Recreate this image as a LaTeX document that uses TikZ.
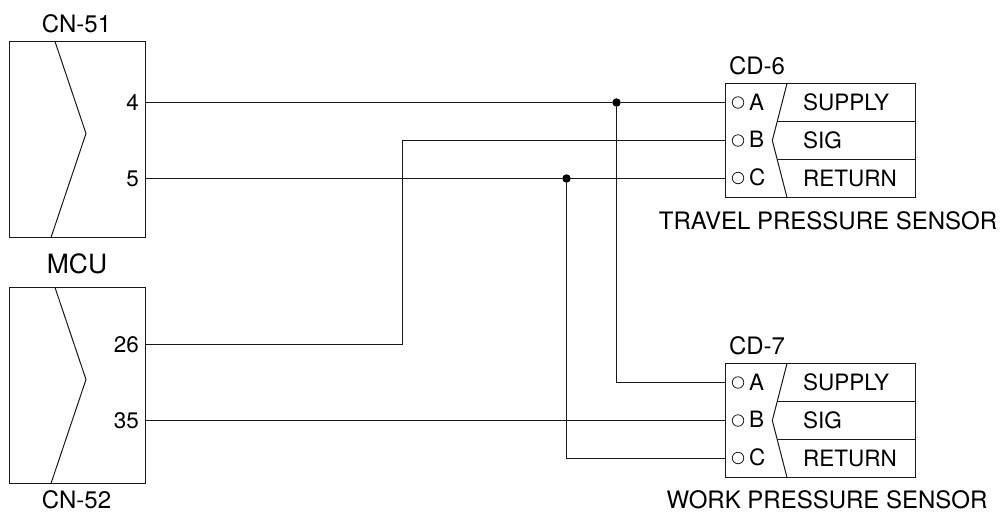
\documentclass[tikz,border=0pt]{standalone}
\usepackage{fontspec}
\setmainfont{TeX Gyre Heros}
\tikzset{
  wire/.style={line width=1.1pt,black!90},
  thin line/.style={line width=1.0pt,black!90},
  boxshape/.style={draw=black!90,line width=1.1pt,rectangle,inner sep=0pt,outer sep=0pt},
  lbl/.style={inner sep=0pt,outer sep=0pt,font=\fontsize{22.5}{24}\selectfont,text=black},
  big/.style={lbl,font=\fontsize{24}{26}\selectfont},
  huge/.style={lbl,font=\fontsize{26.5}{28}\selectfont},
  pinhole/.style={circle,draw=black!90,line width=0.8pt,minimum size=11.5pt,inner sep=0pt},
  junction/.style={circle,fill=black,minimum size=8.5pt,inner sep=0pt}
}
\begin{document}
\begin{tikzpicture}[x=1pt,y=-1pt]
\useasboundingbox (0,0) rectangle (1000,512);
% MCU connectors
\foreach \nm/\t/\uu/\ll/\lt/\ly in {cnA/41.5/4/5/CN-51/32,cnB/287.5/26/35/CN-52/508}{
  \pgfmathsetmacro{\b}{\t+196}
  \pgfmathsetmacro{\m}{\t+92}
  \pgfmathsetmacro{\pa}{\t+(\t<100?61:57)}
  \pgfmathsetmacro{\pb}{\t+(\t<100?137:133)}
  \node[boxshape,anchor=north west,minimum width=136pt,minimum height=196pt] (\nm) at (9.5,\t) {};
  \draw[thin line] (55,\t) -- (86,\m) -- (51,\b);
  \coordinate (\nm p1) at (145.5,\pa);
  \coordinate (\nm p2) at (145.5,\pb);
  \node[lbl,anchor=base east] (\nm u) at (139,\pa+8) {\uu};
  \node[lbl,anchor=base east] (\nm l) at (139,\pb+8) {\ll};
  \node[big,anchor=base] (\nm t) at (76.5,\ly) {\lt};
}
\node[huge,anchor=base] (mcu) at (77,273) {MCU};
% Sensors
\foreach \nm/\o/\lt/\st/\sx/\sy in {cdA/0/CD-6/TRAVEL PRESSURE SENSOR/828/229,cdB/280/CD-7/WORK PRESSURE SENSOR/827/508}{
  \node[boxshape,anchor=north west,minimum width=190pt,minimum height=114pt] (\nm) at (725.5,83.5+\o) {};
  \draw[thin line] (787,83.5+\o) -- (772.3,140.5+\o) -- (787,197.5+\o);
  \draw[thin line] (777,121.5+\o) -- (915.5,121.5+\o);
  \draw[thin line] (777,159.5+\o) -- (915.5,159.5+\o);
  \node[pinhole] (\nm ha) at (738,102.5+\o) {};
  \node[pinhole] (\nm hb) at (738,140.5+\o) {};
  \node[pinhole] (\nm hc) at (738,178+\o) {};
  \node[lbl,anchor=base west] (\nm a) at (749,110+\o) {A};
  \node[lbl,anchor=base west] (\nm b) at (749,147+\o) {B};
  \node[lbl,anchor=base west] (\nm c) at (749,185+\o) {C};
  \node[lbl,anchor=base west] (\nm s) at (803,110.5+\o) {SUPPLY};
  \node[lbl,anchor=base west] (\nm g) at (803,148+\o) {SIG};
  \node[lbl,anchor=base west] (\nm r) at (803,186+\o) {RETURN};
  \node[big,anchor=base west] (\nm t) at (729,74+\o) {\lt};
  \node[big,anchor=base] (\nm n) at (\sx,\sy) {\st};
  \coordinate (\nm p1) at (725.5,102.5+\o);
  \coordinate (\nm p2) at (725.5,140.5+\o);
  \coordinate (\nm p3) at (725.5,178.5+\o);
}
% Junctions
\node[junction] (j1) at (616.5,102.5) {};
\node[junction] (j2) at (566.5,178.5) {};
% Wires
\draw[wire] (cnAp1) -- (j1) -- (cdAp1);
\draw[wire] (cnAp2) -- (j2) -- (cdAp3);
\coordinate (bend) at (402.5,344.5);
\draw[wire] (cnBp1) -- (bend) |- (cdAp2);
\draw[wire] (cnBp2) -- (cdBp2);
\draw[wire] (j1) |- (cdBp1);
\draw[wire] (j2) |- (cdBp3);
\end{tikzpicture}
\end{document}
